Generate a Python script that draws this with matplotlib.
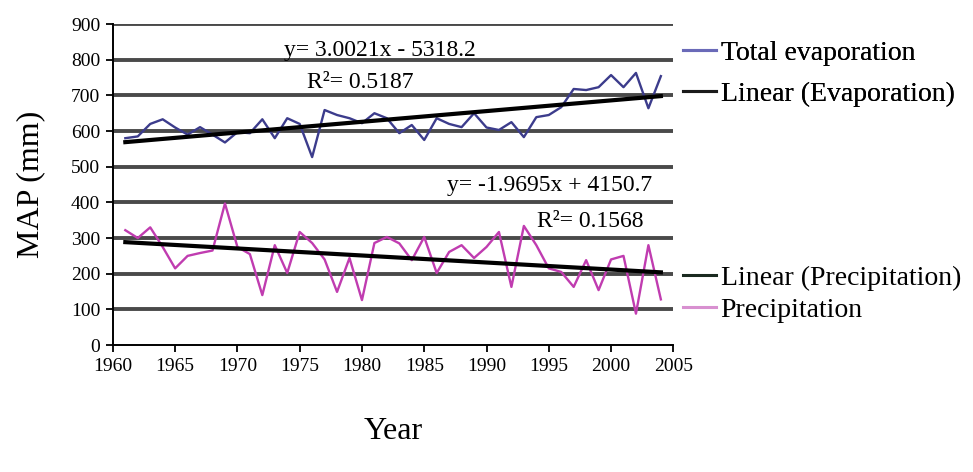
import matplotlib
matplotlib.use('Agg')
import matplotlib.pyplot as plt
import numpy as np

years = list(range(1961, 2005))

evaporation = [580, 585, 620, 633, 610, 590, 611, 590, 568, 597,
               594, 633, 580, 636, 620, 527, 659, 645, 636, 622,
               650, 636, 594, 617, 575, 636, 620, 611, 650, 610,
               603, 625, 583, 639, 645, 667, 718, 715, 723, 757,
               723, 763, 664, 754]

precipitation = [322, 300, 330, 275, 215, 250, 258, 265, 397, 275,
                 255, 140, 280, 202, 317, 286, 240, 149, 244, 126,
                 286, 303, 285, 238, 303, 202, 261, 280, 244, 275,
                 317, 163, 334, 280, 215, 205, 163, 238, 154, 240,
                 250, 88, 280, 128]

# trend lines as printed on the chart
evap_slope, evap_icpt = 3.0021, -5318.2
prec_slope, prec_icpt = -1.9695, 4150.7

yticks = list(range(0, 1000, 100))
xticks = list(range(1960, 2010, 5))

plt.rcParams['font.family'] = ['Liberation Serif', 'DejaVu Serif']

fig = plt.figure(figsize=(9.73, 4.72), dpi=100)
ax = fig.add_axes([0.116, 0.269, 0.576, 0.680])

yr = np.array(years)
for v in yticks[1:]:
    ax.axhline(v, color='#4a4a4a', lw=2.8, zorder=1)

ax.plot(years, evaporation, color='#3c3c8c', lw=1.7, zorder=3)
ax.plot(yr, evap_slope * yr + evap_icpt, color='black', lw=3, zorder=4)
ax.plot(years, precipitation, color='#c03cb0', lw=1.7, zorder=3)
ax.plot(yr, prec_slope * yr + prec_icpt, color='black', lw=3, zorder=4)

ax.set_xlim(1960, 2005)
ax.set_ylim(0, 900)
ax.set_xticks(xticks)
ax.set_yticks(yticks)
ax.tick_params(labelsize=14, direction='out', length=5, width=1.3, pad=4)
for s in ['top', 'right']:
    ax.spines[s].set_visible(False)
for s in ['left', 'bottom']:
    ax.spines[s].set_linewidth(1.4)

ax.set_ylabel('MAP (mm)', fontsize=23)
ax.yaxis.set_label_coords(-0.12, 0.5)
fig.text(0.404, 0.085, 'Year', fontsize=23, ha='center', va='center')

ax.text(1981.4, 826, 'y= 3.0021x - 5318.2', fontsize=17, ha='center', va='center')
ax.text(1979.9, 737, 'R²= 0.5187', fontsize=17, ha='center', va='center')
ax.text(1995.1, 446, 'y= -1.9695x + 4150.7', fontsize=17, ha='center', va='center')
ax.text(1998.3, 345, 'R²= 0.1568', fontsize=17, ha='center', va='center')

# legend handles
h1, = ax.plot([], [], color='#6a6ab8', lw=2.2)
h2, = ax.plot([], [], color='#1a1a1a', lw=2.2)
h3, = ax.plot([], [], color='#1a2a20', lw=2.2)
h4, = ax.plot([], [], color='#d890d0', lw=2.2)

leg1 = fig.legend([h1, h2], ['Total evaporation', 'Linear (Evaporation)'],
                  loc='center left', bbox_to_anchor=(0.702, 0.844), frameon=False,
                  fontsize=20, handlelength=1.2, handletextpad=0.15, labelspacing=0.55,
                  borderaxespad=0, borderpad=0)
leg2 = fig.legend([h3, h4], ['Linear (Precipitation)', 'Precipitation'],
                  loc='center left', bbox_to_anchor=(0.702, 0.377), frameon=False,
                  fontsize=20, handlelength=1.2, handletextpad=0.15, labelspacing=0.25,
                  borderaxespad=0, borderpad=0)
fig.add_artist(leg1)

fig.savefig('out.png', dpi=100)
